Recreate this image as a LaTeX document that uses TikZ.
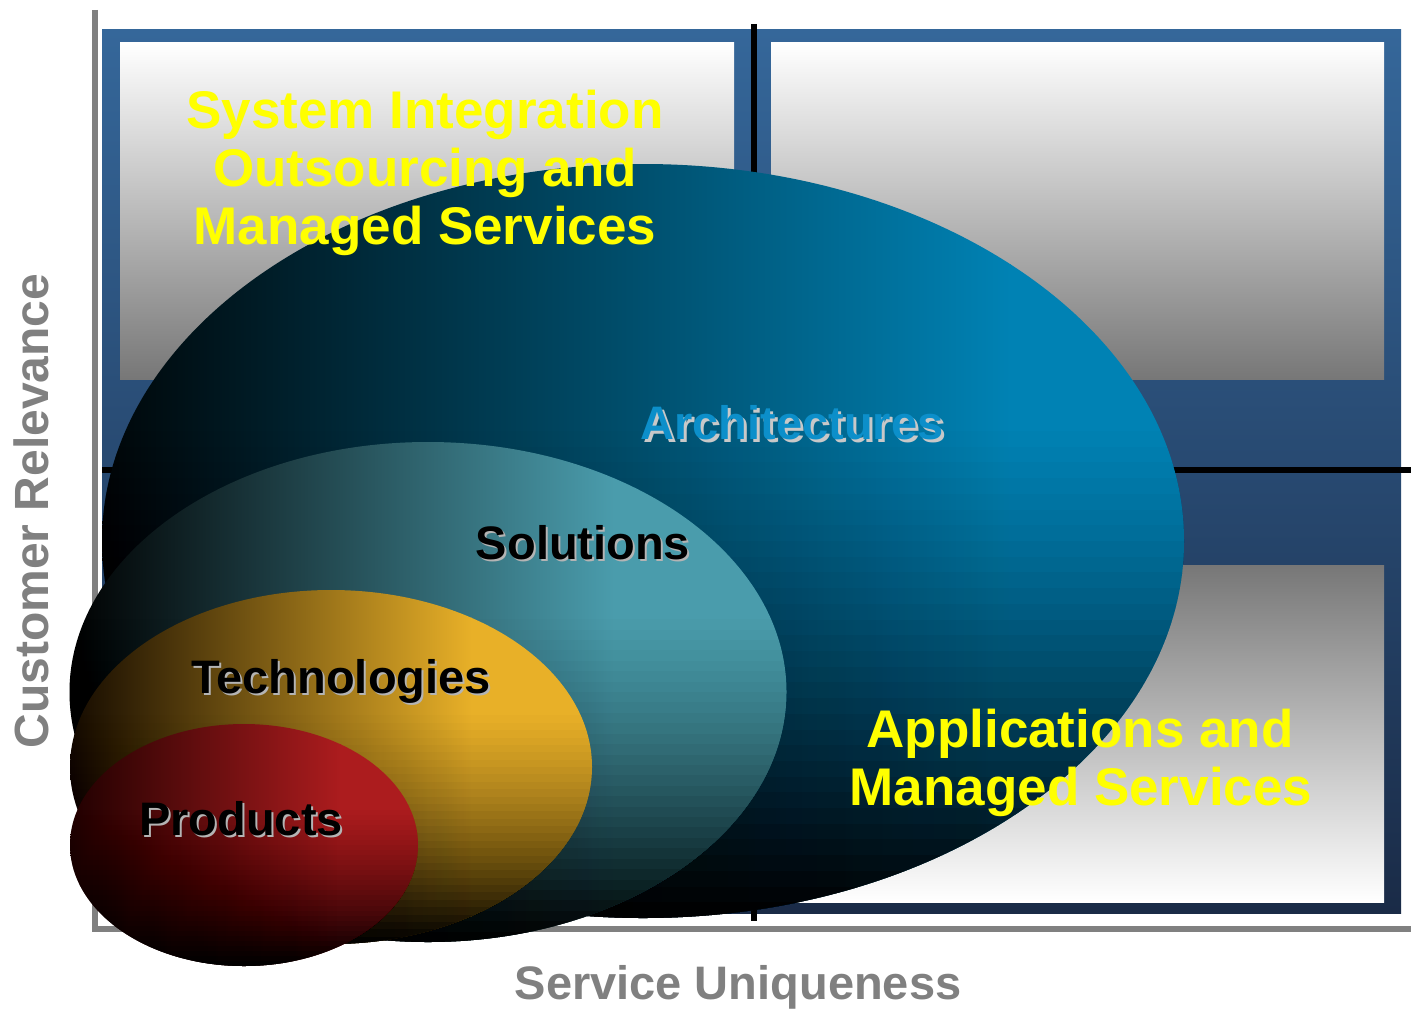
\documentclass[tikz,border=0pt]{standalone}
\usepackage{fontspec}
\setmainfont{Liberation Sans}

\definecolor{panelTop}{HTML}{35679A}
\definecolor{panelBot}{HTML}{1A2B47}
\definecolor{archBlue}{HTML}{0082B4}
\definecolor{solTeal}{HTML}{4A9CAC}
\definecolor{techGold}{HTML}{E8B028}
\definecolor{prodRed}{HTML}{AC1C1E}
\definecolor{axisGray}{HTML}{808080}
\definecolor{archText}{HTML}{0C8FCA}
\definecolor{shadowGray}{HTML}{B4B4B4}
\definecolor{archShadow}{HTML}{C8C8C8}
\definecolor{labelYellow}{HTML}{FFFF00}
\definecolor{boxGray}{HTML}{777777}
\definecolor{boxMid}{HTML}{D0D0D0}
\definecolor{archDark}{HTML}{000608}
\definecolor{solDark}{HTML}{000000}
\definecolor{techDark}{HTML}{140A00}
\definecolor{prodDark}{HTML}{200000}

% #1 cx, #2 cy, #3 rx, #4 ry (all px), #5 left colour, #6 bright colour, #7 fraction of width where bright colour is reached
\newcommand\shadedoval[7]{%
  \pgfmathsetlengthmacro\ovrx{#3*0.5pt}%
  \pgfmathsetlengthmacro\ovry{#4*0.5pt}%
  \pgfmathsetmacro\ovxa{#1-#3-2}%
  \pgfmathsetmacro\ovxb{#1-#3+2*#7*#3}%
  \pgfmathsetmacro\ovxbb{\ovxb-1}%
  \pgfmathsetmacro\ovxc{#1+#3+2}%
  \pgfmathsetmacro\ovya{#2-#4-2}%
  \pgfmathsetmacro\ovyb{#2+#4+2}%
  \begin{scope}
    \clip (#1,#2) ellipse [x radius=\ovrx, y radius=\ovry];
    \shade[left color=#5, right color=#6] (\ovxa,\ovya) rectangle (\ovxb,\ovyb);
    \fill[#6] (\ovxbb,\ovya) rectangle (\ovxc,\ovyb);
    \foreach \k in {0,...,47} {
      \pgfmathsetmacro\uprev{max((\k-0.5)/48-0.35,0)/0.65}
      \pgfmathsetmacro\ucur{max((\k+0.5)/48-0.35,0)/0.65}
      \pgfmathsetmacro\oprev{(\uprev+\uprev*\uprev)/2}
      \pgfmathsetmacro\ocur{(\ucur+\ucur*\ucur)/2}
      \pgfmathsetmacro\astep{1-(1-\ocur)/(1-\oprev)}
      \pgfmathsetmacro\ystart{#2-#4+(\k/24)*#4}
      \ifdim\astep pt>0.001pt
        \fill[black, opacity=\astep] (\ovxa,\ystart) rectangle (\ovxc,\ovyb);
      \fi
    }
  \end{scope}}

\begin{document}
\begin{tikzpicture}[x=0.5pt,y=-0.5pt,
  axisline/.style={draw=axisGray, line width=3pt},
  divider/.style={draw=black, line width=3.2pt},
  panel/.style={top color=panelTop, bottom color=panelBot},
  boxdown/.style={top color=white, middle color=boxMid, bottom color=boxGray},
  boxup/.style={top color=boxGray, middle color=boxMid, bottom color=white},
  yellowlbl/.style={font=\fontsize{26.5}{28}\selectfont\bfseries, text=labelYellow, inner sep=0pt, anchor=base},
  lbl/.style={font=\fontsize{23.5}{28}\selectfont\bfseries, inner sep=0pt, anchor=base},
  shadowlbl/.style={lbl, text=shadowGray},
  axislbl/.style={lbl, text=axisGray}
]
\useasboundingbox (0,0) rectangle (1411,1011);

% axes
\draw[axisline] (95,10) |- (1411,929);

% background panel and quadrant boxes
\shade[panel] (102,30) rectangle (1401,913);
\shade[boxdown] (120,43) rectangle (734,379);
\shade[boxdown] (771,43) rectangle (1384,379);
\shade[boxup] (120,565) rectangle (734,902);
\shade[boxup] (771,565) rectangle (1384,902);

% quadrant dividers
\draw[divider] (754,24) -- (754,921);
\draw[divider] (102,470) -- (1411,470);

% nested ellipses
\shadedoval{643}{541}{541}{377}{archDark}{archBlue}{0.84}
\shadedoval{428}{692}{358.5}{250}{solDark}{solTeal}{0.76}
\shadedoval{331}{767}{261}{177}{techDark}{techGold}{0.77}
\shadedoval{244}{845}{174}{121}{prodDark}{prodRed}{0.78}

% quadrant labels
\node[yellowlbl] (si1) at (425,128) {System Integration};
\node[yellowlbl] (si2) at (425,186) {Outsourcing and};
\node[yellowlbl] (si3) at (425,244) {Managed Services};
\node[yellowlbl] (am1) at (1080,747) {Applications and};
\node[yellowlbl] (am2) at (1081,805) {Managed Services};

% ellipse labels with shadows
\node[lbl, text=archShadow] (archS) at (795,442) {Architectures};
\node[lbl, text=archText] (arch) at (792,439) {Architectures};
\node[shadowlbl] (solS) at (585,561) {Solutions};
\node[lbl, text=black] (sol) at (583,559) {Solutions};
\node[shadowlbl] (techS) at (343,695) {Technologies};
\node[lbl, text=black] (tech) at (341,693) {Technologies};
\node[shadowlbl] (prodS) at (243,837) {Products};
\node[lbl, text=black] (prod) at (241,835) {Products};

% axis labels
\node[axislbl] (xlab) at (738,999) {Service Uniqueness};
\node[axislbl, font=\fontsize{24}{28}\selectfont\bfseries, rotate=90] (ylab) at (48,511) {Customer Relevance};
\end{tikzpicture}
\end{document}
